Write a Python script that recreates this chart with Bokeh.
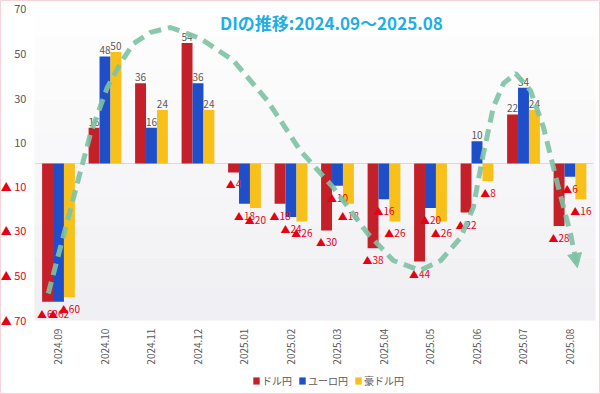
import math
from bokeh.plotting import figure
from bokeh.models import (ColumnDataSource, Legend, LegendItem, BoxAnnotation,
                          Arrow, NormalHead, Range1d, Label)
from bokeh.core.properties import value
from bokeh.embed import file_html
from bokeh.resources import INLINE

# ---------------- data ----------------
months = ["2024.09", "2024.10", "2024.11", "2024.12", "2025.01", "2025.02",
          "2025.03", "2025.04", "2025.05", "2025.06", "2025.07", "2025.08"]
usd_jpy = [-62, 16, 36, 54, -4, -18, -30, -38, -44, -22, 22, -28]
eur_jpy = [-62, 48, 16, 36, -18, -24, -10, -16, -20, 10, 34, -6]
aud_jpy = [-60, 50, 24, 24, -20, -26, -18, -26, -26, -8, 24, -16]
series_names = ["ドル円", "ユーロ円", "豪ドル円"]
y_ticks = [70, 50, 30, 10, -10, -30, -50, -70]
title_text = "DIの推移:2024.09～2025.08"

# hand-drawn trend annotation (category index, DI value)
trend_x = [-0.22, 0.41, 0.69, 1.05, 1.33, 1.61, 1.98, 2.41, 3.05, 3.76, 4.49,
           5.20, 5.91, 6.65, 7.20, 7.78, 8.22, 8.65, 8.92, 9.12, 9.35, 9.57,
           9.83, 10.15, 10.43, 10.73, 11.01, 11.16]
trend_y = [-58.3, -8.5, 13.5, 34.1, 44.9, 53.8, 58.8, 61.0, 56.1, 46.2, 28.3,
           5.8, -10.8, -31.4, -43.5, -48.0, -43.5, -33.2, -19.7, 2.7, 25.1, 35.9,
           40.4, 32.7, 16.2, -9.0, -31.4, -46.7]

# ---------------- style ----------------
FONT = "Noto Sans CJK JP"
colors = ["#c3202a", "#1f4fc8", "#f7c01a"]
GRAY = "#595959"
NEG_RED = "#e60012"
GREEN = "#7cc2a4"
bar_w = 0.235
offsets = [-bar_w, 0.0, bar_w]
n = len(months)

p = figure(width=600, height=394, output_backend="svg", toolbar_location=None,
           x_range=Range1d(-1.247, 11.656), y_range=Range1d(-103.6, 73.1),
           min_border=0)
p.background_fill_color = "white"
p.border_fill_color = "white"
p.outline_line_color = "#f6d3da"
p.outline_line_width = 1
p.grid.visible = False
p.xaxis.visible = False
p.yaxis.visible = False

# plot-area soft vertical gradient (white -> light lavender gray)
bands = 10
top_v, bot_v = 71.0, -70.4
c0, c1 = (255, 255, 255), (239, 238, 242)
for k in range(bands):
    f = (k + 0.5) / bands
    col = "#%02x%02x%02x" % tuple(int(round(a + (b - a) * f)) for a, b in zip(c0, c1))
    y_hi = top_v + (bot_v - top_v) * k / bands
    y_lo = top_v + (bot_v - top_v) * (k + 1) / bands
    p.add_layout(BoxAnnotation(left=-0.52, right=n - 0.45, top=y_hi, bottom=y_lo,
                               fill_color=col, fill_alpha=1, line_alpha=0,
                               level="underlay"))

# zero line
p.line(x=[-0.5, n - 0.5], y=[0, 0], line_color="#d9d9d9", line_width=1)

series = [usd_jpy, eur_jpy, aud_jpy]

# bars
renderers = []
for vals, col, off in zip(series, colors, offsets):
    src = ColumnDataSource(dict(x=[i + off for i in range(n)], top=vals))
    r = p.vbar(x="x", top="top", bottom=0, width=bar_w, source=src,
               fill_color=col, line_color=None)
    renderers.append(r)

# value labels
for vals, off in zip(series, offsets):
    pos = [(i + off, v) for i, v in enumerate(vals) if v > 0]
    neg = [(i + off, v) for i, v in enumerate(vals) if v < 0]
    psrc = ColumnDataSource(dict(x=[a for a, b in pos], y=[b for a, b in pos],
                                 t=[str(b) for a, b in pos]))
    nsrc = ColumnDataSource(dict(x=[a for a, b in neg], y=[b for a, b in neg],
                                 t=["▲" + str(-b) for a, b in neg]))
    p.text(x="x", y="y", text="t", source=psrc, text_align="center",
           text_baseline="bottom", y_offset=-2, text_font=value(FONT),
           text_font_size="10px", text_color=GRAY)
    p.text(x="x", y="y", text="t", source=nsrc, text_align="center",
           text_baseline="top", y_offset=4, text_font=value(FONT),
           text_font_size="10px", text_color=NEG_RED)

# y tick labels (gray positive, red ▲ negative)
pos_ticks = [t for t in y_ticks if t > 0]
neg_ticks = [t for t in y_ticks if t < 0]
p.text(x=[-0.69] * len(pos_ticks), y=pos_ticks, text=[str(t) for t in pos_ticks],
       text_align="right", text_baseline="middle", y_offset=2,
       text_font=value(FONT), text_font_size="11px", text_color=GRAY)
p.text(x=[-0.69] * len(neg_ticks), y=neg_ticks,
       text=["▲ " + str(-t) for t in neg_ticks],
       text_align="right", text_baseline="middle", text_font=value(FONT),
       text_font_size="11px", text_color=NEG_RED)

# category labels (vertical, under the value axis bottom)
p.text(x=list(range(n)), y=[min(y_ticks)] * n, text=months, angle=math.pi / 2,
       text_align="right", text_baseline="middle", y_offset=9,
       text_font=value(FONT), text_font_size="10px", text_color=GRAY)

# trend curve with arrow
p.line(x=trend_x, y=trend_y, line_color=GREEN, line_width=5,
       line_dash="12 7", line_alpha=0.9)
p.add_layout(Arrow(end=NormalHead(size=14, fill_color=GREEN, line_color=GREEN,
                                  fill_alpha=0.9, line_alpha=0.9),
                   x_start=trend_x[-2], y_start=trend_y[-2],
                   x_end=trend_x[-1], y_end=trend_y[-1], line_alpha=0))

# title
p.add_layout(Label(x=5.87, y=63.3, text=title_text, text_align="center",
                   text_baseline="middle", text_font=FONT,
                   text_font_size="17px", text_font_style="bold",
                   text_color="#1eaee6"))

legend = Legend(items=[LegendItem(label=nm, renderers=[r])
                       for nm, r in zip(series_names, renderers)],
                orientation="horizontal", location=(252, 6),
                label_text_font=FONT, label_text_font_size="10px",
                label_text_color=GRAY, glyph_width=8, glyph_height=9,
                label_standoff=2, spacing=6, padding=2, margin=0,
                border_line_color=None, background_fill_alpha=0)
p.add_layout(legend, "center")

open("out.html", "w").write(file_html(p, INLINE))
